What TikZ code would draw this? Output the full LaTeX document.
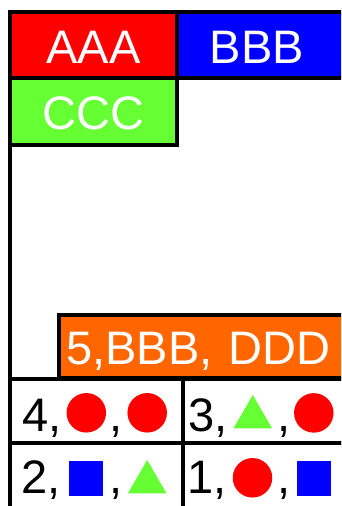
\documentclass[tikz,border=0pt]{standalone}
\usepackage{fontspec}
\setmainfont{Liberation Sans}
\usetikzlibrary{shapes.geometric}
\definecolor{hdrred}{HTML}{FF0000}
\definecolor{hdrblue}{HTML}{0000FF}
\definecolor{hdrgreen}{HTML}{66FF33}
\definecolor{hdrorange}{HTML}{FF6600}

\begin{document}
\begin{tikzpicture}[
  x=1pt, y=-1pt,
  font=\fontsize{47}{50}\selectfont,
  hdr/.style={rectangle, draw=black, line width=4pt, text=white, inner sep=0pt, outer sep=0pt, minimum width=167.6pt, minimum height=66pt, text height=36pt, text depth=0pt},
  cellbox/.style={rectangle, draw=black, line width=4pt, inner sep=0pt, outer sep=0pt, anchor=north west},
  txt/.style={anchor=base west, inner sep=0pt, text=black},
  dot/.style={circle, fill=hdrred, inner sep=0pt, minimum size=39.5pt},
  sq/.style={rectangle, fill=hdrblue, inner sep=0pt, minimum size=34.5pt},
  tri/.style={regular polygon, regular polygon sides=3, fill=hdrgreen, inner sep=0pt, minimum size=44.5pt},
]
\useasboundingbox (0,0) rectangle (341,506);
\clip (0,0) rectangle (341,506);
\fill[white] (0,0) rectangle (341,506);
% frame on the left
\draw[line width=4pt] (9.7,12) -- (9.7,520);
% header boxes
\node[hdr, fill=hdrred] (aaa) at (93.5,45) {AAA};
\node[hdr, fill=hdrblue, anchor=north west, text width=150pt, align=left, inner xsep=32.6pt] (bbb) at (177.3,12) {BBB};
\node[hdr, fill=hdrgreen, minimum height=67.3pt] (ccc) at (93.5,111.65) {CCC};
\node[hdr, fill=hdrorange, anchor=north west, text width=320pt, align=left, inner xsep=7.6pt, minimum height=62.7pt] (ddd) at (58.7,315.3) {5,BBB, DDD};
% table cells
\node[cellbox, minimum width=173.3pt, minimum height=64.3pt] (r1a) at (9.7,378.7) {};
\node[cellbox, minimum width=200pt, minimum height=64.3pt] (r1b) at (183,378.7) {};
\node[cellbox, minimum width=173.3pt, minimum height=80pt] (r2a) at (9.7,443) {};
\node[cellbox, minimum width=200pt, minimum height=80pt] (r2b) at (183,443) {};
% row 1
\node[txt] (n4) at (22,431.7) {4,};
\node[dot] (d4a) at (86.3,412.8) {};
\node[txt] (k4) at (109,431.7) {,};
\node[dot] (d4b) at (147.2,412.8) {};
\node[txt] (n3) at (188,431.7) {3,};
\node[tri] (t3) at (252.8,417.2) {};
\node[txt] (k3) at (277,431.7) {,};
\node[dot] (d3) at (313.8,412.9) {};
% row 2
\node[txt] (n2) at (21.5,493.3) {2,};
\node[sq] (s2) at (86.2,478.3) {};
\node[txt] (k2) at (109,493.3) {,};
\node[tri] (t2) at (147.2,482.2) {};
\node[txt] (n1) at (187,493.3) {1,};
\node[dot] (d1) at (252.5,477.8) {};
\node[txt] (k1) at (277.7,493.3) {,};
\node[sq] (s1) at (314.2,478.3) {};
\end{tikzpicture}
\end{document}
